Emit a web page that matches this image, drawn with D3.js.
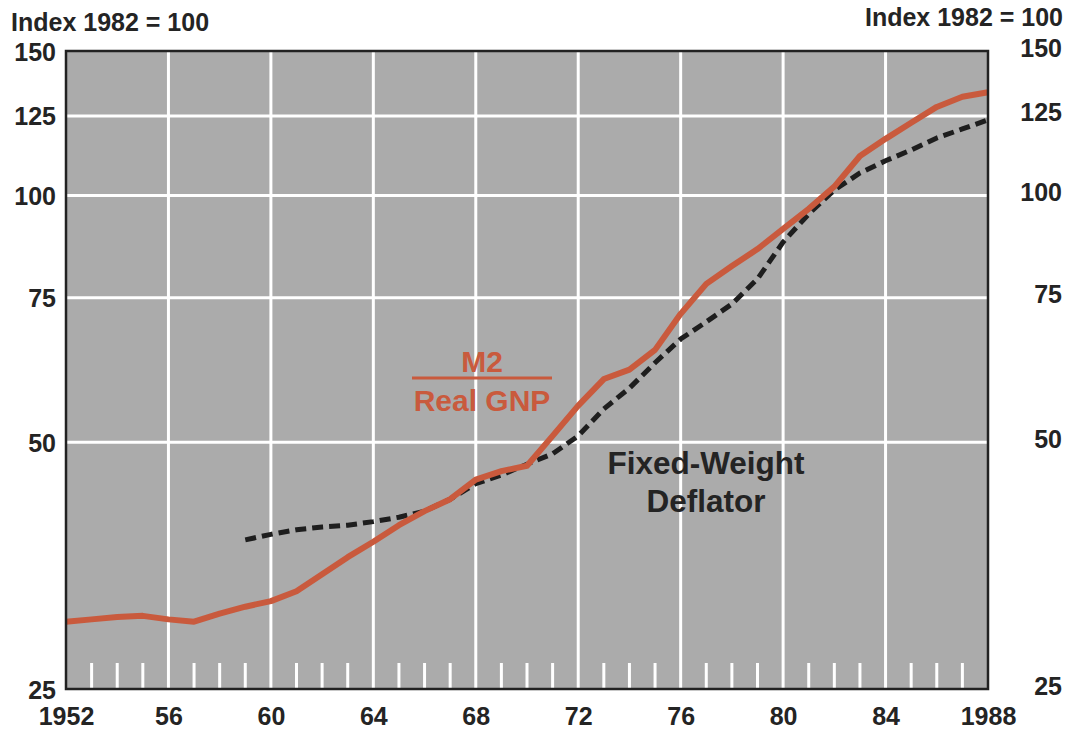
<!DOCTYPE html>
<html>
<head>
<meta charset="utf-8">
<script src="https://cdn.jsdelivr.net/npm/d3@7"></script>
<style>
  body { margin: 0; background: #fff; }
  text { font-family: "Liberation Sans", Arial, sans-serif; font-weight: bold; }
</style>
</head>
<body>
<script>
// M2 / real GNP, index 1982 = 100
const m2Years = [1952, 1953, 1954, 1955, 1956, 1957, 1958, 1959, 1960, 1961, 1962, 1963,
  1964, 1965, 1966, 1967, 1968, 1969, 1970, 1971, 1972, 1973, 1974, 1975, 1976, 1977,
  1978, 1979, 1980, 1981, 1982, 1983, 1984, 1985, 1986, 1987, 1988]
const m2Values = [30.2, 30.4, 30.6, 30.7, 30.4, 30.2, 30.9, 31.5, 32.0, 32.9, 34.5, 36.2,
  37.8, 39.6, 41.2, 42.6, 45.0, 46.1, 46.8, 50.9, 55.4, 59.7, 61.3, 64.8, 71.7, 78.0,
  82.0, 86.0, 91.0, 96.3, 102.5, 111.7, 117.2, 122.6, 128.2, 131.9, 133.6]

// fixed-weight deflator
const defYears = [1959, 1960, 1961, 1962, 1963, 1964, 1965, 1966, 1967, 1968, 1969, 1970,
  1971, 1972, 1973, 1974, 1975, 1976, 1977, 1978, 1979, 1980, 1981, 1982, 1983, 1984,
  1985, 1986, 1987, 1988]
const defValues = [38.0, 38.6, 39.1, 39.4, 39.6, 40.0, 40.5, 41.2, 42.6, 44.5, 45.6, 47.0,
  48.4, 50.9, 54.9, 58.2, 62.5, 66.8, 70.1, 73.7, 79.1, 87.7, 94.9, 101.5, 106.5, 110.2,
  113.6, 117.5, 120.5, 123.6]

const yTicks = [25, 50, 75, 100, 125, 150]
const yGrid = [50, 75, 100, 125]
const xTicks = [1952, 1956, 1960, 1964, 1968, 1972, 1976, 1980, 1984, 1988]
const xTickLabels = ["1952", "56", "60", "64", "68", "72", "76", "80", "84", "1988"]
const xGrid = [1956, 1960, 1964, 1968, 1972, 1976, 1980, 1984]
const minorYears = [1953, 1954, 1955, 1957, 1958, 1959, 1961, 1962, 1963, 1965, 1966, 1967,
  1969, 1970, 1971, 1973, 1974, 1975, 1977, 1978, 1979, 1981, 1982, 1983, 1985, 1986, 1987]

const W = 1066, H = 729
const plot = { left: 66, right: 988, top: 51, bottom: 689 }
const ink = "#242424"
const red = "#c95a3d"

const x = d3.scaleLinear().domain([1952, 1988]).range([plot.left, plot.right])
const y = d3.scaleLog().domain([25, 150]).range([plot.bottom, plot.top])

const svg = d3.select("body").append("svg")
  .attr("width", W)
  .attr("height", H)

svg.append("rect")
  .attr("x", plot.left).attr("y", plot.top)
  .attr("width", plot.right - plot.left)
  .attr("height", plot.bottom - plot.top)
  .attr("fill", "#ababab")

// gridlines
const grid = svg.append("g").attr("stroke", "#fff").attr("stroke-width", 3)
grid.selectAll(".gx").data(xGrid).join("line")
  .attr("x1", d => x(d)).attr("x2", d => x(d))
  .attr("y1", plot.top).attr("y2", plot.bottom)
grid.selectAll(".gy").data(yGrid).join("line")
  .attr("x1", plot.left).attr("x2", plot.right)
  .attr("y1", d => y(d)).attr("y2", d => y(d))
grid.selectAll(".mt").data(minorYears).join("line")
  .attr("x1", d => x(d)).attr("x2", d => x(d))
  .attr("y1", plot.bottom - 26).attr("y2", plot.bottom)

// series
const line = d3.line()
  .x(d => x(d[0]))
  .y(d => y(d[1]))

svg.append("path")
  .datum(defYears.map((yr, i) => [yr, defValues[i]]))
  .attr("fill", "none")
  .attr("stroke", "#1e1e1e")
  .attr("stroke-width", 5)
  .attr("stroke-dasharray", "11,6")
  .attr("d", line)

svg.append("path")
  .datum(m2Years.map((yr, i) => [yr, m2Values[i]]))
  .attr("fill", "none")
  .attr("stroke", red)
  .attr("stroke-width", 6)
  .attr("stroke-linejoin", "round")
  .attr("d", line)

// frame
svg.append("rect")
  .attr("x", plot.left).attr("y", plot.top)
  .attr("width", plot.right - plot.left)
  .attr("height", plot.bottom - plot.top)
  .attr("fill", "none")
  .attr("stroke", "#222")
  .attr("stroke-width", 2.5)

// axis labels
const yAxisL = d3.axisLeft(y).tickValues(yTicks).tickFormat(d3.format("d")).tickSize(0).tickPadding(10)
const yAxisR = d3.axisRight(y).tickValues(yTicks).tickFormat(d3.format("d")).tickSize(0).tickPadding(0)
const xAxis = d3.axisBottom(x).tickValues(xTicks).tickFormat((d, i) => xTickLabels[i]).tickSize(0).tickPadding(18)

const styleAxis = g => {
  g.select(".domain").remove()
  g.selectAll("text")
    .attr("fill", ink)
    .style("font-size", "25px")
    .style("font-family", "'Liberation Sans', Arial, sans-serif")
    .style("font-weight", "bold")
}

svg.append("g").attr("transform", `translate(${plot.left},1)`).call(yAxisL).call(styleAxis)
svg.append("g").attr("transform", `translate(1018,-3)`).call(yAxisR).call(styleAxis)
  .selectAll("text").attr("text-anchor", "end").attr("x", 44)
svg.append("g").attr("transform", `translate(0,${plot.bottom})`).call(xAxis).call(styleAxis)

svg.append("text")
  .attr("x", 11).attr("y", 31)
  .attr("fill", ink).style("font-size", "25px")
  .text("Index 1982 = 100")
svg.append("text")
  .attr("x", 1063).attr("y", 26)
  .attr("text-anchor", "end")
  .attr("fill", ink).style("font-size", "25px")
  .text("Index 1982 = 100")

// series labels
svg.append("text")
  .attr("x", 482).attr("y", 372)
  .attr("text-anchor", "middle")
  .attr("fill", red).style("font-size", "30px")
  .text("M2")
svg.append("line")
  .attr("x1", 412).attr("x2", 552)
  .attr("y1", 378).attr("y2", 378)
  .attr("stroke", red).attr("stroke-width", 3)
svg.append("text")
  .attr("x", 482).attr("y", 411)
  .attr("text-anchor", "middle")
  .attr("fill", red).style("font-size", "30px")
  .text("Real GNP")

svg.append("text")
  .attr("x", 706).attr("y", 474)
  .attr("text-anchor", "middle")
  .attr("fill", ink).style("font-size", "31.5px")
  .text("Fixed-Weight")
svg.append("text")
  .attr("x", 706).attr("y", 512)
  .attr("text-anchor", "middle")
  .attr("fill", ink).style("font-size", "31.5px")
  .text("Deflator")
</script>
</body>
</html>
